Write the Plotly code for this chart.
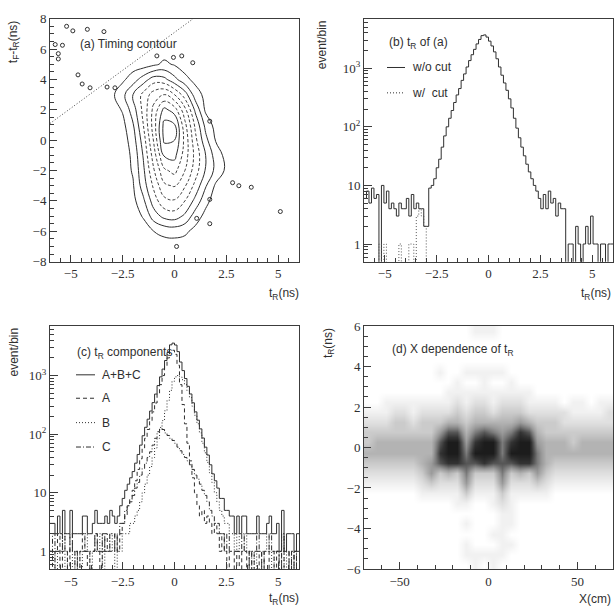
import numpy as np
import plotly.graph_objects as go

# ------------------------------------------------------------------ data
# t_R histograms: 100 bins of 0.12 ns between -6 and 6 ns
hist_lo, hist_hi = -6.0, 6.0

# (b) t_R of the events in (a), before the timing cut
tR_without_cut = [
    6, 8, 5, 9, 6, 7, 0, 10, 5, 8, 4, 5, 4, 3, 5, 4, 4, 6, 3, 7,
    4, 5, 4, 4, 2, 2, 9, 10, 13, 20, 28, 45, 70, 100, 140, 190, 260, 350, 450, 620,
    800, 1050, 1350, 1700, 2100, 2600, 3100, 3600, 3700, 3400, 2900, 2400, 1900, 1450, 1050, 760, 560, 420, 300, 210,
    140, 95, 65, 45, 32, 23, 17, 13, 10, 8, 6, 4, 7, 4, 8, 5, 6, 3, 5, 4,
    4, 0, 1, 1, 0, 2, 1, 0, 1, 2, 1, 3, 1, 1, 0, 1, 1, 0, 1, 1,
]
# events surviving the cut (only a few bins are filled)
with_cut_bins = [6, 8, 14, 18, 19, 21, 22, 23, 24]
with_cut_counts = [1, 1, 1, 1, 1, 3, 4, 3, 2]

# (c) components of the t_R distribution
comp_A = [
    1, 0, 1, 2, 0, 1, 1, 0, 2, 1, 1, 0, 1, 2, 1, 0, 1, 1, 2, 1,
    0, 1, 2, 1, 1, 1, 2, 1, 2, 3, 4, 6, 8, 11, 16, 25, 38, 58, 85, 120,
    170, 240, 340, 480, 700, 1000, 1450, 2000, 2700, 2700, 2300, 1500, 700, 320, 150, 70, 35, 18, 10, 6,
    4, 5, 3, 4, 3, 2, 3, 2, 1, 2, 1, 0, 1, 1, 0, 1, 0, 1, 1, 0,
    1, 0, 1, 1, 0, 1, 0, 0, 1, 1, 0, 1, 0, 1, 0, 0, 1, 0, 1, 0,
]
comp_B = [
    1, 1, 0, 1, 1, 2, 0, 1, 1, 0, 1, 1, 0, 1, 2, 1, 0, 1, 1, 1,
    2, 0, 1, 1, 2, 1, 0, 1, 1, 2, 2, 2, 3, 3, 4, 5, 7, 10, 14, 20,
    28, 40, 58, 85, 120, 170, 250, 380, 560, 800, 950, 1000, 950, 850, 700, 550, 420, 300, 210, 150,
    105, 70, 48, 33, 22, 15, 10, 7, 5, 4, 3, 3, 2, 2, 1, 2, 1, 1, 2, 1,
    1, 1, 0, 1, 1, 1, 1, 2, 1, 0, 1, 1, 1, 2, 0, 1, 1, 1, 0, 1,
]
comp_C = [
    1, 2, 1, 1, 1, 2, 1, 1, 2, 1, 0, 1, 1, 1, 1, 1, 1, 1, 2, 1,
    1, 2, 1, 1, 2, 2, 1, 2, 3, 3, 5, 6, 7, 9, 12, 15, 20, 26, 32, 40,
    50, 65, 85, 110, 130, 120, 105, 95, 85, 78, 70, 60, 52, 45, 40, 35, 30, 25, 20, 17,
    14, 11, 9, 7, 5, 4, 3, 3, 2, 2, 1, 2, 1, 1, 1, 1, 1, 2, 1, 1,
    0, 1, 1, 2, 1, 0, 1, 1, 2, 1, 1, 1, 0, 2, 1, 1, 0, 1, 0, 1,
]

# (a) t_F - t_R versus t_R: contour level index on a 0.5 ns x 1 ns grid.
# Only the rows that carry the main cluster are listed, for t_R = -3 ... 3 ns.
grid_t = np.arange(-6.0, 6.001, 0.5)
grid_dt = np.arange(8.0, -8.001, -1.0)
core_t_first = -3.0
core_rows = {
    5: [0, 0, 0, 0, 0.3, 0.7, 0.4, 0, 0, 0, 0, 0, 0],
    4: [0, 0.3, 1.0, 2.0, 3.0, 2.8, 1.8, 0.8, 0.2, 0, 0, 0, 0],
    3: [0.3, 1.2, 2.5, 3.8, 5.0, 5.5, 4.5, 3.0, 1.0, 0.2, 0, 0, 0],
    2: [0, 0.6, 2.0, 3.8, 5.8, 7.8, 7.0, 4.8, 2.3, 0.3, 0, 0, 0],
    1: [0, 0.2, 1.4, 3.5, 6.0, 8.8, 8.6, 5.8, 3.3, 1.2, 0.1, 0, 0],
    0: [0, 0, 1.0, 3.0, 5.6, 8.7, 8.5, 6.2, 3.8, 1.8, 0.4, 0, 0],
    -1: [0, 0, 0.7, 2.6, 5.0, 7.6, 7.8, 6.0, 4.2, 2.5, 1.0, 0.2, 0],
    -2: [0, 0, 0.6, 2.3, 4.4, 6.3, 6.8, 5.5, 4.0, 2.4, 1.2, 0.3, 0],
    -3: [0, 0, 0.4, 2.0, 3.7, 5.3, 5.6, 4.6, 3.2, 1.6, 0.3, 0, 0],
    -4: [0, 0, 0.2, 1.3, 3.0, 4.2, 4.4, 3.5, 2.2, 0.8, 0, 0, 0],
    -5: [0, 0, 0, 0.6, 2.0, 2.8, 3.0, 2.3, 1.0, 0.2, 0, 0, 0],
    -6: [0, 0, 0, 0, 0.5, 0.8, 0.9, 0.7, 0.2, 0, 0, 0, 0],
}
# isolated single-entry islands of the lowest contour
island_t = [-5.2, -4.9, -4.2, -3.4, -5.75, -5.4, -5.6, -5.6, -4.65, -4.45, -4.07, -3.25, -2.87,
            -0.85, -0.05, 0.35, 0.88, 1.7, 1.07, 1.7, 1.7, 2.8, 3.1, 3.7, 5.1, 0.1]
island_dt = [7.5, 7.2, 7.3, 7.15, 6.3, 6.25, 5.7, 5.35, 4.3, 3.7, 3.45, 3.5, 3.45,
             5.55, 5.45, 5.55, 5.1, 1.25, -5.15, -3.9, -5.5, -2.8, -3.0, -3.1, -4.7, -7.0]
# timing cut: t_F - t_R = t_R + offset
cut_offset = 7.1

# (d) t_R versus X: event density (0 = empty ... 9 = saturated) in 5 cm x 0.5 ns cells
dens_x = np.arange(-67.5, 67.6, 5.0)
dens_y = np.arange(5.75, -5.76, -0.5)
density = [
    [0, 0, 0, 0, 0, 0, 0, 0, 0, 0, 0, 0, 1, 1, 1, 0, 0, 0, 0, 0, 0, 0, 0, 0, 0, 0, 0, 0],
    [0, 0, 0, 0, 0, 0, 0, 0, 0, 0, 0, 0, 0, 0, 0, 0, 0, 0, 0, 0, 0, 0, 0, 0, 0, 0, 0, 0],
    [0, 0, 0, 0, 0, 0, 0, 0, 0, 0, 0, 0, 0, 0, 0, 0, 0, 0, 0, 0, 0, 0, 0, 0, 0, 0, 0, 0],
    [0, 0, 0, 0, 0, 0, 0, 0, 0, 0, 0, 0, 0, 0, 0, 0, 0, 0, 0, 0, 0, 0, 0, 0, 0, 0, 0, 0],
    [0, 0, 0, 0, 0, 0, 0, 0, 1, 0, 0, 1, 1, 1, 1, 1, 0, 0, 0, 0, 0, 0, 0, 0, 0, 0, 0, 0],
    [0, 0, 0, 0, 0, 0, 0, 0, 0, 0, 1, 0, 0, 1, 0, 0, 1, 0, 0, 0, 0, 0, 0, 0, 0, 0, 0, 0],
    [0, 0, 0, 0, 0, 0, 0, 0, 0, 1, 1, 1, 1, 1, 1, 1, 1, 1, 1, 0, 0, 0, 0, 0, 0, 0, 0, 0],
    [0, 0, 1, 1, 1, 1, 1, 1, 1, 1, 2, 1, 2, 2, 1, 2, 2, 2, 1, 1, 1, 1, 0, 1, 1, 0, 1, 1],
    [1, 1, 1, 2, 2, 1, 2, 2, 2, 2, 3, 2, 3, 3, 2, 3, 3, 3, 2, 2, 2, 2, 2, 1, 1, 1, 1, 2],
    [2, 2, 2, 3, 3, 2, 3, 3, 3, 4, 4, 3, 4, 4, 4, 4, 4, 5, 4, 3, 3, 3, 2, 2, 2, 2, 2, 2],
    [3, 3, 3, 3, 3, 3, 3, 3, 5, 7, 7, 4, 6, 7, 6, 5, 6, 8, 7, 4, 3, 3, 3, 3, 3, 3, 3, 3],
    [3, 4, 4, 4, 4, 4, 4, 4, 7, 9, 9, 5, 8, 9, 9, 6, 8, 9, 9, 5, 4, 4, 4, 3, 4, 4, 4, 4],
    [4, 4, 4, 4, 4, 4, 4, 4, 8, 9, 9, 6, 9, 9, 9, 6, 9, 9, 9, 6, 4, 4, 4, 4, 4, 4, 4, 4],
    [3, 3, 3, 3, 3, 3, 4, 5, 7, 8, 8, 7, 7, 8, 7, 7, 7, 8, 8, 6, 4, 3, 3, 3, 3, 3, 3, 3],
    [2, 2, 2, 2, 2, 2, 3, 5, 3, 4, 3, 6, 3, 3, 3, 6, 3, 4, 3, 5, 3, 2, 2, 2, 2, 2, 2, 2],
    [1, 1, 1, 1, 1, 1, 2, 3, 2, 2, 2, 5, 2, 2, 2, 5, 2, 2, 2, 3, 2, 1, 1, 1, 1, 1, 1, 1],
    [0, 0, 0, 0, 0, 0, 1, 1, 1, 1, 1, 3, 1, 1, 1, 3, 1, 1, 1, 1, 1, 0, 0, 0, 0, 0, 0, 0],
    [0, 0, 0, 0, 0, 0, 0, 0, 0, 0, 1, 1, 0, 0, 1, 2, 1, 0, 0, 0, 0, 0, 0, 0, 0, 0, 0, 0],
    [0, 0, 0, 0, 0, 0, 0, 0, 0, 0, 0, 0, 0, 0, 0, 1, 1, 0, 0, 0, 0, 0, 0, 0, 0, 0, 0, 0],
    [0, 0, 0, 0, 0, 0, 0, 0, 0, 0, 0, 1, 0, 0, 0, 1, 1, 0, 0, 0, 0, 0, 0, 0, 0, 0, 0, 0],
    [0, 0, 0, 0, 0, 0, 0, 0, 0, 0, 0, 0, 0, 0, 1, 1, 0, 0, 0, 0, 0, 0, 0, 0, 0, 0, 0, 0],
    [0, 0, 0, 0, 0, 0, 0, 0, 0, 0, 0, 1, 0, 0, 0, 1, 1, 0, 0, 0, 0, 0, 0, 0, 0, 0, 0, 0],
    [0, 0, 0, 0, 0, 0, 0, 0, 0, 0, 0, 1, 1, 1, 1, 1, 0, 0, 0, 0, 0, 0, 0, 0, 0, 0, 0, 0],
    [0, 0, 0, 0, 0, 0, 0, 0, 0, 0, 0, 0, 1, 0, 1, 0, 0, 0, 0, 0, 0, 0, 0, 0, 0, 0, 0, 0],
]

# ------------------------------------------------------------------ style
W, H = 615, 616
INK = "#2f2f2f"
AX = "#3c3c3c"
SANS = "Liberation Sans"
SERIF = "Liberation Serif"
LOG_FLOOR = 0.3          # empty bins are drawn down to the frame


def px(x):
    return x / W


def py(y):
    return 1 - y / H


def steps(counts):
    counts = np.asarray(counts, dtype=float)
    edges = np.linspace(hist_lo, hist_hi, len(counts) + 1)
    y = np.where(counts > 0, counts, LOG_FLOOR)
    return edges, np.append(y, y[-1])


fig = go.Figure()

# ---- (a) contour
z = np.zeros((len(grid_dt), len(grid_t)))
c0 = int(round((core_t_first - grid_t[0]) / 0.5))
for dt_val, vals in core_rows.items():
    r = int(np.where(np.isclose(grid_dt, dt_val))[0][0])
    z[r, c0:c0 + len(vals)] = vals

for start, end, dash, width in [(0.5, 2.5, "solid", 1.0),
                                (3.5, 6.5, "3px,2px", 0.9),
                                (7.5, 8.5, "solid", 1.0)]:
    fig.add_trace(go.Contour(
        x=grid_t, y=grid_dt, z=z, xaxis="x", yaxis="y",
        contours=dict(start=start, end=end, size=1, coloring="lines"),
        line=dict(width=width, dash=dash, smoothing=1.2),
        colorscale=[[0, INK], [1, INK]], showscale=False, hoverinfo="skip"))

fig.add_trace(go.Scatter(
    x=island_t, y=island_dt, mode="markers", xaxis="x", yaxis="y",
    marker=dict(symbol="circle-open", size=4, color=INK, line=dict(width=1)),
    hoverinfo="skip", showlegend=False))

cut_t = np.array([hist_lo, 8.0 - cut_offset])
fig.add_trace(go.Scatter(
    x=cut_t, y=cut_t + cut_offset, mode="lines", xaxis="x", yaxis="y",
    line=dict(color="#444", width=1, dash="1px,2px"), hoverinfo="skip", showlegend=False))

# ---- (b) histograms
ex, ey = steps(tR_without_cut)
fig.add_trace(go.Scatter(x=ex, y=ey, mode="lines", line_shape="hv", xaxis="x2", yaxis="y2",
                         line=dict(color=INK, width=1), hoverinfo="skip", showlegend=False))
cut_counts = np.zeros(len(tR_without_cut))
cut_counts[with_cut_bins] = with_cut_counts
ex, ey = steps(cut_counts)
fig.add_trace(go.Scatter(x=ex, y=ey, mode="lines", line_shape="hv", xaxis="x2", yaxis="y2",
                         line=dict(color="#555", width=1, dash="1px,2px"), hoverinfo="skip",
                         showlegend=False))

# ---- (c) components
total = np.add(np.add(comp_A, comp_B), comp_C)
for counts, dash in [(total, "solid"), (comp_A, "4px,3px"), (comp_B, "1px,2px"),
                     (comp_C, "5px,2px,1px,2px")]:
    ex, ey = steps(counts)
    fig.add_trace(go.Scatter(x=ex, y=ey, mode="lines", line_shape="hv", xaxis="x3", yaxis="y3",
                             line=dict(color=INK, width=1, dash=dash), hoverinfo="skip",
                             showlegend=False))

# ---- (d) X dependence
fig.add_trace(go.Heatmap(
    x=dens_x, y=dens_y, z=density, xaxis="x4", yaxis="y4", zmin=0, zmax=9,
    zsmooth="best", showscale=False, hoverinfo="skip",
    colorscale=[[0, "#ffffff"], [0.11, "#f1f1f1"], [0.22, "#e0e0e0"], [0.33, "#cccccc"],
                [0.44, "#b4b4b4"], [0.56, "#9a9a9a"], [0.67, "#7a7a7a"], [0.78, "#555555"],
                [0.89, "#333333"], [1, "#1c1c1c"]]))

# ------------------------------------------------------------------ axes
dom_x_left, dom_x_right = [px(50), px(299)], [px(364), px(613)]
dom_y_top, dom_y_bot = [py(261), py(12)], [py(576), py(327)]
tickfont = dict(family=SERIF, size=13, color=INK)


def lin_axis(domain, rng, dtick, minor, anchor):
    return dict(domain=domain, range=rng, anchor=anchor, showline=True, linecolor=AX,
                linewidth=1, mirror=True, ticks="inside", ticklen=7, tickwidth=1, tickcolor=AX,
                dtick=dtick, tick0=0, showgrid=False, zeroline=False, tickfont=tickfont,
                minor=dict(ticks="inside", ticklen=4, dtick=minor, tick0=0, tickcolor=AX))


minor_log = [v * 10 ** d for d in range(-1, 4) for v in range(2, 10)]
minor_log = [v for v in minor_log if 0.5 <= v <= 7000]


def log_axis(domain, anchor):
    return dict(domain=domain, type="log", range=[np.log10(0.5), np.log10(7000)], anchor=anchor,
                showline=True, linecolor=AX, linewidth=1, mirror=True, ticks="inside",
                ticklen=8, tickwidth=1, tickcolor=AX, showgrid=False, zeroline=False,
                tickmode="array", tickvals=[1, 10, 100, 1000],
                ticktext=["1", "10", "10<sup>2</sup>", "10<sup>3</sup>"], tickfont=tickfont,
                minor=dict(ticks="inside", ticklen=4, tickmode="array", tickvals=minor_log,
                           tickcolor=AX))


fig.update_layout(
    width=W, height=H, margin=dict(l=0, r=0, t=0, b=0),
    paper_bgcolor="white", plot_bgcolor="white", showlegend=False,
    xaxis=lin_axis(dom_x_left, [-6, 6], 2.5, 0.5, "y"),
    yaxis=lin_axis(dom_y_top, [-8, 8], 2, 0.5, "x"),
    xaxis2=lin_axis(dom_x_right, [-6, 6], 2.5, 0.5, "y2"),
    yaxis2=log_axis(dom_y_top, "x2"),
    xaxis3=lin_axis(dom_x_left, [-6, 6], 2.5, 0.5, "y3"),
    yaxis3=log_axis(dom_y_bot, "x3"),
    xaxis4=lin_axis(dom_x_right, [-70, 70], 50, 10, "y4"),
    yaxis4=lin_axis(dom_y_bot, [-6, 6], 2, 0.5, "x4"),
)

# ------------------------------------------------------------------ labels
ann = []


def text(x, y, s, size=12, xanchor="left", yanchor="middle", angle=0):
    ann.append(dict(x=px(x), y=py(y), xref="paper", yref="paper", text=s, showarrow=False,
                    xanchor=xanchor, yanchor=yanchor, textangle=angle,
                    font=dict(family=SANS, size=size, color=INK)))


text(78, 38, "(a) Timing contour")
text(387, 37, "(b) t<sub>R</sub> of (a)")
text(410, 62, "w/o cut")
text(410, 88, "w/  cut")
text(75, 355, "(c) t<sub>R</sub> components")
text(100, 377, "A+B+C")
text(100, 401, "A")
text(100, 426, "B")
text(100, 451, "C")
text(390, 352, "(d) X dependence of t<sub>R</sub>")

text(14, 12, "t<sub>F</sub>-t<sub>R</sub>(ns)", yanchor="top", xanchor="center", angle=-90)
text(322, 12, "event/bin", yanchor="top", xanchor="center", angle=-90)
text(14, 327, "event/bin", yanchor="top", xanchor="center", angle=-90)
text(329, 327, "t<sub>R</sub>(ns)", yanchor="top", xanchor="center", angle=-90)

text(301, 294, "t<sub>R</sub>(ns)", xanchor="right")
text(613, 294, "t<sub>R</sub>(ns)", xanchor="right")
text(301, 607, "t<sub>R</sub>(ns)", xanchor="right")
text(613, 607, "X(cm)", xanchor="right")

shapes = []
for y, dash in [(62, "solid"), (88, "1px,2px")]:
    shapes.append(dict(type="line", xref="paper", yref="paper", x0=px(387), x1=px(405),
                       y0=py(y), y1=py(y), line=dict(color=INK, width=1, dash=dash)))
for y, dash in [(377, "solid"), (401, "4px,3px"), (426, "1px,2px"), (451, "5px,2px,1px,2px")]:
    shapes.append(dict(type="line", xref="paper", yref="paper", x0=px(76), x1=px(95),
                       y0=py(y), y1=py(y), line=dict(color=INK, width=1, dash=dash)))

fig.update_layout(annotations=ann, shapes=shapes)
fig.write_html("out.html")
